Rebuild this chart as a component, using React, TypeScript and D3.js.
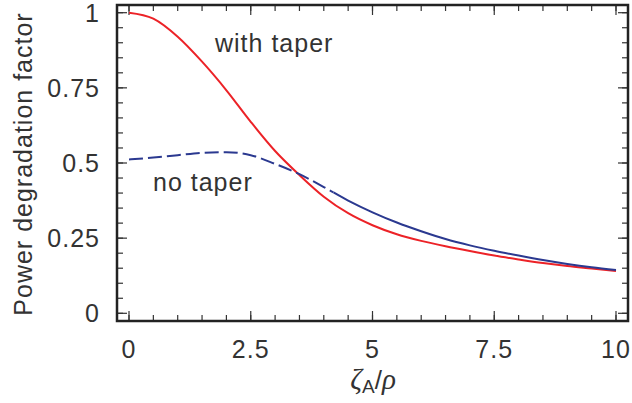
import React from "react";
import * as d3 from "d3";

const zeta = [0, 0.5, 1, 1.5, 2, 2.5, 3, 3.5, 4, 4.5, 5, 5.5, 6, 6.5, 7, 7.5, 8, 8.5, 9, 9.5, 10];
const withTaper = [1.0, 0.98, 0.92, 0.837, 0.742, 0.637, 0.54, 0.46, 0.388, 0.333, 0.293, 0.263, 0.241, 0.223, 0.207, 0.192, 0.179, 0.167, 0.157, 0.149, 0.141];
const noTaper = [0.512, 0.518, 0.526, 0.534, 0.536, 0.526, 0.497, 0.463, 0.42, 0.375, 0.336, 0.302, 0.273, 0.247, 0.226, 0.208, 0.192, 0.177, 0.164, 0.153, 0.144];
const dashedUntil = 4.2;

const xTickValues = [0, 2.5, 5, 7.5, 10];
const xTickLabels = ["0", "2.5", "5", "7.5", "10"];
const yTickValues = [0, 0.25, 0.5, 0.75, 1];
const yTickLabels = ["0", "0.25", "0.5", "0.75", "1"];
const xMinorStep = 0.5;
const yMinorStep = 0.05;

const W = 632;
const H = 403;
const frame = { left: 117, top: 5, right: 628, bottom: 321 };

export default function App() {
  const x = d3.scaleLinear().domain([0, 10]).range([129, 616]);
  const y = d3.scaleLinear().domain([0, 1]).range([313.3, 12.7]);

  const line = d3
    .line<number>()
    .x((_, i) => x(zeta[i]))
    .y((d) => y(d))
    .curve(d3.curveMonotoneX);

  const xMinor = d3.range(0, 10 + 1e-9, xMinorStep);
  const yMinor = d3.range(0, 1 + 1e-9, yMinorStep);
  const tickColor = "#333";
  const font = "'Liberation Sans', Arial, Helvetica, sans-serif";
  const serif = "'Liberation Serif', 'DejaVu Serif', serif";
  const textColor = "#333";
  const majorLen = 10;
  const minorLen = 6;
  const split = x(dashedUntil);

  return (
    <svg width={W} height={H} style={{ position: "absolute", left: 0, top: 0, background: "#fff" }}>
      <defs>
        <clipPath id="leftPart">
          <rect x={0} y={0} width={split} height={H} />
        </clipPath>
        <clipPath id="rightPart">
          <rect x={split} y={0} width={W - split} height={H} />
        </clipPath>
      </defs>

      {/* ticks */}
      <g stroke={tickColor} strokeWidth={1.2}>
        {xMinor.map((v, i) => (
          <g key={"xm" + i}>
            <line x1={x(v)} x2={x(v)} y1={frame.bottom} y2={frame.bottom - minorLen} />
            <line x1={x(v)} x2={x(v)} y1={frame.top} y2={frame.top + minorLen} />
          </g>
        ))}
        {yMinor.map((v, i) => (
          <g key={"ym" + i}>
            <line x1={frame.left} x2={frame.left + minorLen} y1={y(v)} y2={y(v)} />
            <line x1={frame.right} x2={frame.right - minorLen} y1={y(v)} y2={y(v)} />
          </g>
        ))}
        {xTickValues.map((v, i) => (
          <g key={"xM" + i}>
            <line x1={x(v)} x2={x(v)} y1={frame.bottom} y2={frame.bottom - majorLen} />
            <line x1={x(v)} x2={x(v)} y1={frame.top} y2={frame.top + majorLen} />
          </g>
        ))}
        {yTickValues.map((v, i) => (
          <g key={"yM" + i}>
            <line x1={frame.left} x2={frame.left + majorLen} y1={y(v)} y2={y(v)} />
            <line x1={frame.right} x2={frame.right - majorLen} y1={y(v)} y2={y(v)} />
          </g>
        ))}
      </g>

      {/* curves */}
      <path d={line(withTaper) || ""} fill="none" stroke="#ec2227" strokeWidth={2} />
      <path
        d={line(noTaper) || ""}
        fill="none"
        stroke="#2b3990"
        strokeWidth={2}
        strokeDasharray="14,5"
        clipPath="url(#leftPart)"
      />
      <path d={line(noTaper) || ""} fill="none" stroke="#2b3990" strokeWidth={2} clipPath="url(#rightPart)" />

      {/* frame */}
      <rect
        x={frame.left}
        y={frame.top}
        width={frame.right - frame.left}
        height={frame.bottom - frame.top}
        fill="none"
        stroke="#222"
        strokeWidth={2.5}
      />

      {/* tick labels */}
      <g fontFamily={font} fontSize={25} fill={textColor} letterSpacing={1}>
        {xTickValues.map((v, i) => (
          <text key={"xl" + i} x={x(v)} y={358} textAnchor="middle">
            {xTickLabels[i]}
          </text>
        ))}
        {yTickValues.map((v, i) => (
          <text key={"yl" + i} x={100} y={y(v)} textAnchor="end" dominantBaseline="central">
            {yTickLabels[i]}
          </text>
        ))}
      </g>

      {/* annotations */}
      <g fontFamily={font} fontSize={25} fill={textColor} letterSpacing={1}>
        <text x={215} y={52}>with taper</text>
        <text x={153} y={191}>no taper</text>
      </g>

      {/* y axis title */}
      <text
        transform={`translate(32,164) rotate(-90)`}
        textAnchor="middle"
        fontFamily={font}
        fontSize={25}
        fill={textColor}
        letterSpacing={1}
      >
        Power degradation factor
      </text>

      {/* x axis title */}
      <text x={373} y={389} textAnchor="middle" fill={textColor}>
        <tspan fontFamily={serif} fontStyle="italic" fontSize={29}>
          ζ
        </tspan>
        <tspan fontFamily={font} fontSize={19} dy={4}>
          A
        </tspan>
        <tspan fontFamily={font} fontSize={26} dy={-4}>
          /
        </tspan>
        <tspan fontFamily={serif} fontStyle="italic" fontSize={29}>
          ρ
        </tspan>
      </text>
    </svg>
  );
}
